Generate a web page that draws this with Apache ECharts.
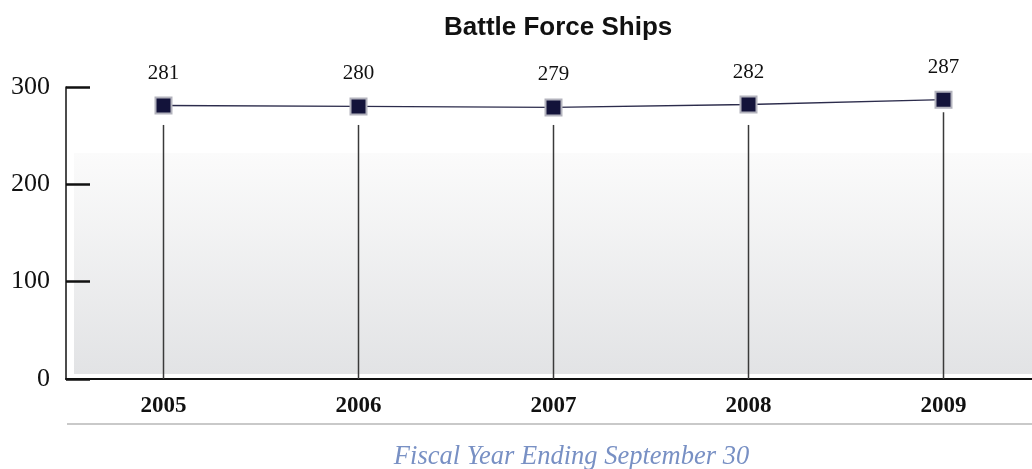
<!DOCTYPE html>
<html>
<head>
<meta charset="utf-8">
<script src="https://cdn.jsdelivr.net/npm/echarts@6/dist/echarts.min.js"></script>
<style>
  html, body { margin: 0; padding: 0; background: #fff; }
  #chart { width: 1032px; height: 469px; }
</style>
</head>
<body>
<div id="chart"></div>
<script>
// Battle force ship counts by fiscal year
const years = ['2005', '2006', '2007', '2008', '2009'];
const ships = [281, 280, 279, 282, 287];
// Height reached by each vertical stem line
const stemTops = [261, 261, 261, 261, 274];
const yTicks = [0, 100, 200, 300];

const serif = '"Palatino Linotype", Palatino, "Liberation Serif", "DejaVu Serif", serif';

const chart = echarts.init(document.getElementById('chart'));

chart.setOption({
  backgroundColor: '#ffffff',
  animation: false,
  title: {
    text: 'Battle Force Ships',
    left: 439,
    top: 10,
    textStyle: { fontFamily: '"Liberation Sans", Arial, sans-serif', fontWeight: 'bold', fontSize: 26, color: '#111' }
  },
  graphic: [
    {
      type: 'rect',
      z: -10,
      silent: true,
      shape: { x: 74, y: 153, width: 960, height: 221 },
      style: {
        fill: new echarts.graphic.LinearGradient(0, 0, 0, 1, [
          { offset: 0, color: '#fbfbfb' },
          { offset: 1, color: '#e2e3e5' }
        ])
      }
    },
    {
      type: 'line',
      silent: true,
      shape: { x1: 67, y1: 424, x2: 1032, y2: 424 },
      style: { stroke: '#c9c9c9', lineWidth: 2 }
    }
  ],
  grid: { left: 66, right: -9, top: 87, bottom: 90, containLabel: false, outerBoundsMode: 'none' },
  xAxis: {
    type: 'category',
    data: years,
    boundaryGap: true,
    axisLine: { lineStyle: { color: '#111', width: 2 } },
    axisTick: { inside: true, length: 7, lineStyle: { color: '#111', width: 2 } },
    axisLabel: { margin: 16, fontFamily: serif, fontWeight: 'bold', fontSize: 23, color: '#111' },
    name: 'Fiscal Year Ending September 30',
    nameLocation: 'middle',
    nameGap: 65,
    nameTextStyle: { fontFamily: serif, fontStyle: 'italic', fontSize: 26.5, color: '#7890c4', padding: [0, 0, 0, 36] }
  },
  yAxis: {
    type: 'value',
    min: yTicks[0],
    max: yTicks[yTicks.length - 1],
    interval: 100,
    axisLine: { show: true, lineStyle: { color: '#111', width: 1.5 } },
    axisTick: { show: true, inside: true, length: 24, lineStyle: { color: '#111', width: 2.5 } },
    axisLabel: { margin: 16, fontFamily: serif, fontSize: 26, color: '#111', padding: [12, 0, 0, 0] },
    splitLine: { show: false }
  },
  series: [
    {
      type: 'custom',
      name: 'stems',
      data: years.map((y, i) => [i, stemTops[i]]),
      renderItem: function (params, api) {
        const top = api.coord([api.value(0), api.value(1)]);
        const bottom = api.coord([api.value(0), 0]);
        return {
          type: 'line',
          shape: { x1: top[0], y1: top[1], x2: bottom[0], y2: bottom[1] },
          style: { stroke: '#3a3a3a', lineWidth: 1.5 }
        };
      },
      z: 1
    },
    {
      type: 'line',
      name: 'Battle Force Ships',
      data: ships,
      symbol: 'rect',
      symbolSize: 16,
      lineStyle: { color: '#2c2c4c', width: 1.3 },
      itemStyle: { color: '#13133a', borderColor: '#b3b3bd', borderWidth: 2 },
      label: {
        show: true,
        position: 'top',
        distance: 13,
        fontFamily: serif,
        fontSize: 21,
        color: '#111'
      },
      z: 3
    }
  ]
});
</script>
</body>
</html>
